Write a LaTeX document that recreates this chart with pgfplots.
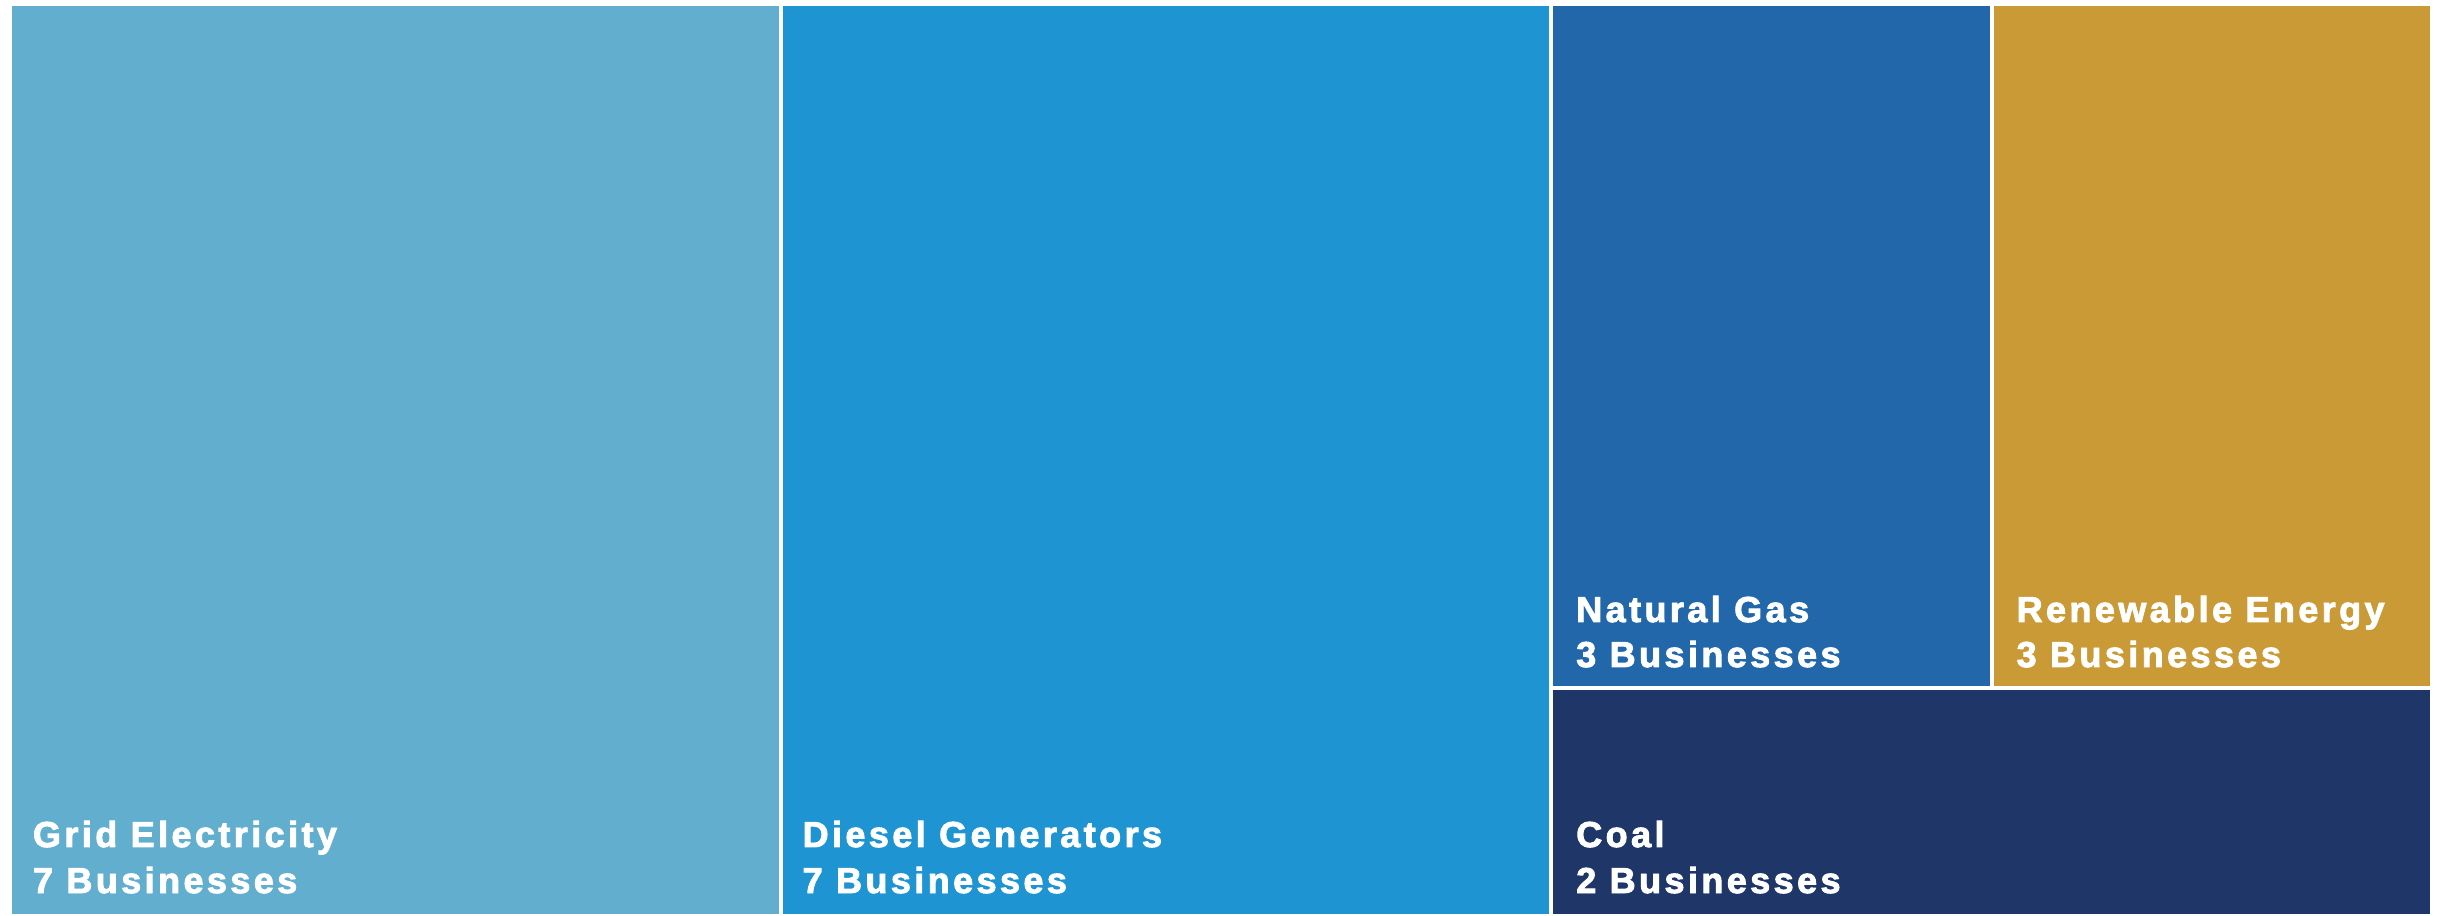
\documentclass[border=0pt]{standalone}
\usepackage{pgfplots}
\pgfplotsset{compat=1.18}
\usepackage{fontspec}
\setmainfont{Liberation Sans}
\newfontfamily\lbl{Liberation Sans Bold}[LetterSpace=9.5, FakeBold=2.5]
\definecolor{cGrid}{RGB}{98,174,206}
\definecolor{cDiesel}{RGB}{30,148,210}
\definecolor{cGas}{RGB}{33,103,170}
\definecolor{cRen}{RGB}{201,154,54}
\definecolor{cCoal}{RGB}{30,55,104}
\tikzset{tmlbl/.style={inner sep=0pt, outer sep=0pt, text=white, anchor=base west,
    font=\lbl\fontsize{36bp}{40bp}\selectfont}}
\begin{document}
\begin{tikzpicture}
\useasboundingbox (-10bp,0) rectangle (2435bp,916bp);
\begin{axis}[at={(0,0)}, anchor=south west, scale only axis,
  width=2422bp, height=912bp, xmin=0, xmax=22, ymin=0, ymax=1,
  axis lines=none, clip=false]
% Treemap: values Grid 7, Diesel 7, Natural Gas 3, Renewable 3, Coal 2 (total 22)
\addplot[fill=cGrid, draw=white, line width=4bp] coordinates {(0,0) (7,0) (7,1) (0,1) (0,0)};
\addplot[fill=cDiesel, draw=white, line width=4bp] coordinates {(7,0) (14,0) (14,1) (7,1) (7,0)};
\addplot[fill=cGas, draw=white, line width=4bp] coordinates {(14,0.25) (18,0.25) (18,1) (14,1) (14,0.25)};
\addplot[fill=cRen, draw=white, line width=4bp] coordinates {(18,0.25) (22,0.25) (22,1) (18,1) (18,0.25)};
\addplot[fill=cCoal, draw=white, line width=4bp] coordinates {(14,0) (22,0) (22,0.25) (14,0.25) (14,0)};
\node[tmlbl, xshift=23bp, yshift=69bp] at (axis cs:0,0) {Grid Electricity};
\node[tmlbl, xshift=23bp, yshift=23bp] at (axis cs:0,0) {7 Businesses};
\node[tmlbl, xshift=22bp, yshift=69bp] at (axis cs:7,0) {Diesel Generators};
\node[tmlbl, xshift=22bp, yshift=23bp] at (axis cs:7,0) {7 Businesses};
\node[tmlbl, xshift=25bp, yshift=66bp] at (axis cs:14,0.25) {Natural Gas};
\node[tmlbl, xshift=25bp, yshift=21bp] at (axis cs:14,0.25) {3 Businesses};
\node[tmlbl, xshift=25bp, yshift=66bp] at (axis cs:18,0.25) {Renewable Energy};
\node[tmlbl, xshift=25bp, yshift=21bp] at (axis cs:18,0.25) {3 Businesses};
\node[tmlbl, xshift=25bp, yshift=69bp] at (axis cs:14,0) {Coal};
\node[tmlbl, xshift=25bp, yshift=23bp] at (axis cs:14,0) {2 Businesses};
\end{axis}
\end{tikzpicture}
\end{document}
